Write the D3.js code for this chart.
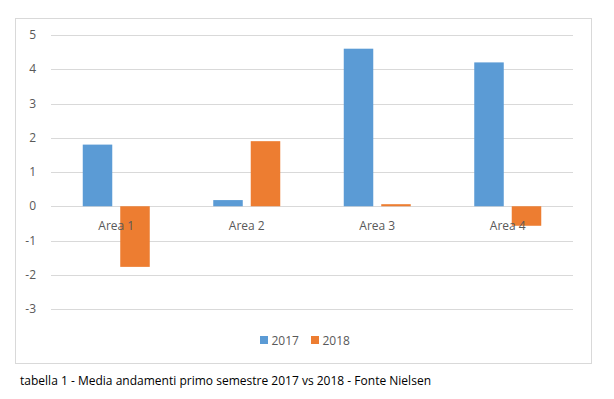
<!DOCTYPE html>
<html>
<head>
<meta charset="utf-8">
<script src="https://cdn.jsdelivr.net/npm/d3@7"></script>
<style>
  html, body { margin: 0; padding: 0; background: #fff; }
  svg { display: block; }
  text { font-family: "Open Sans", "Liberation Sans", sans-serif; }
</style>
</head>
<body>
<svg id="chart" width="614" height="399"></svg>
<script>
const areas = ['Area 1', 'Area 2', 'Area 3', 'Area 4'];
const seriesNames = ['2017', '2018'];
const values2017 = [1.8, 0.18, 4.6, 4.2];
const values2018 = [-1.77, 1.9, 0.06, -0.57];
const yTicks = [5, 4, 3, 2, 1, 0, -1, -2, -3];
const caption = 'tabella 1 - Media andamenti primo semestre 2017 vs 2018 - Fonte Nielsen';

const colors = { '2017': '#5B9BD5', '2018': '#ED7D31' };
const data = areas.map((a, i) => ({ area: a, values: [
  { key: '2017', value: values2017[i] },
  { key: '2018', value: values2018[i] },
] }));

const svg = d3.select('#chart');

// chart frame
svg.append('rect')
  .attr('x', 15.5).attr('y', 18.5)
  .attr('width', 576).attr('height', 345)
  .attr('fill', '#fff').attr('stroke', '#D9D9D9');

const plot = { left: 51, right: 573 };
const y = d3.scaleLinear().domain([-3, 5]).range([309, 35]);
const x0 = d3.scaleBand().domain(areas).range([plot.left, plot.right]).padding(0);
const groupW = 67;
const x1 = d3.scaleBand().domain(seriesNames)
  .range([(x0.bandwidth() - groupW) / 2, (x0.bandwidth() + groupW) / 2])
  .paddingInner(0.213).paddingOuter(0);

// gridlines
svg.append('g')
  .selectAll('line')
  .data(yTicks)
  .join('line')
  .attr('x1', plot.left).attr('x2', plot.right)
  .attr('y1', d => Math.round(y(d)) + 0.5).attr('y2', d => Math.round(y(d)) + 0.5)
  .attr('stroke', '#D9D9D9').attr('stroke-width', 1);

// y tick labels
svg.append('g')
  .selectAll('text')
  .data(yTicks)
  .join('text')
  .attr('x', 36)
  .attr('y', d => y(d))
  .attr('dy', '0.35em')
  .attr('text-anchor', 'end')
  .attr('font-size', 12)
  .attr('fill', '#595959')
  .text(d => d);

// bars
const groups = svg.append('g')
  .selectAll('g')
  .data(data)
  .join('g')
  .attr('transform', d => `translate(${x0(d.area)},0)`);

groups.selectAll('rect')
  .data(d => d.values)
  .join('rect')
  .attr('x', d => x1(d.key))
  .attr('width', x1.bandwidth())
  .attr('y', d => y(Math.max(0, d.value)))
  .attr('height', d => Math.abs(y(d.value) - y(0)))
  .attr('fill', d => colors[d.key]);

// category labels
svg.append('g')
  .selectAll('text')
  .data(areas)
  .join('text')
  .attr('x', d => x0(d) + x0.bandwidth() / 2)
  .attr('y', 225.5)
  .attr('dy', '0.35em')
  .attr('text-anchor', 'middle')
  .attr('font-size', 12)
  .attr('fill', '#595959')
  .text(d => d);

// legend
const legendX = [260, 311];
const legend = svg.append('g')
  .selectAll('g')
  .data(seriesNames)
  .join('g')
  .attr('transform', (d, i) => `translate(${legendX[i]},336)`);
legend.append('rect')
  .attr('width', 8).attr('height', 8)
  .attr('fill', d => colors[d]);
legend.append('text')
  .attr('x', 11.5).attr('y', 4.5)
  .attr('dy', '0.35em')
  .attr('font-size', 12)
  .attr('fill', '#595959')
  .text(d => d);

// caption
svg.append('text')
  .attr('x', 20).attr('y', 381)
  .attr('dy', '0.35em')
  .attr('font-size', 12)
  .attr('fill', '#000')
  .attr('textLength', 411)
  .attr('lengthAdjust', 'spacingAndGlyphs')
  .text(caption);
</script>
</body>
</html>
